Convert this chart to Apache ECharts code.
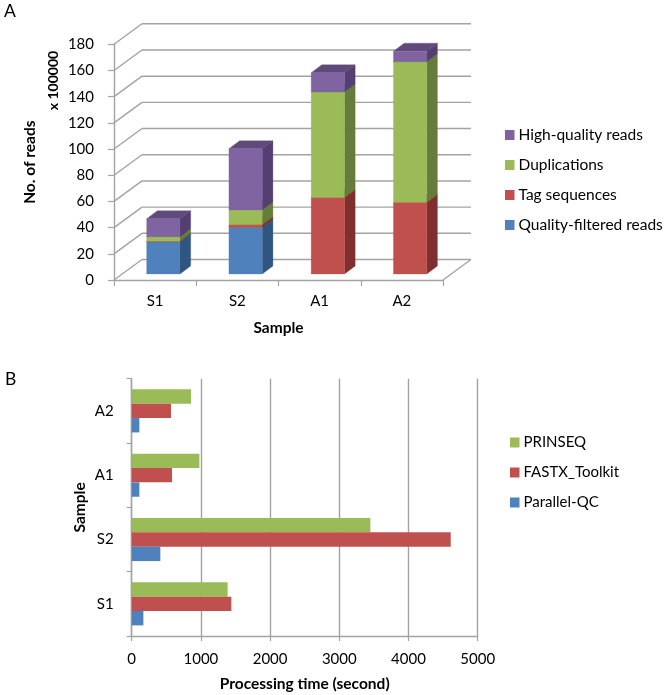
<!DOCTYPE html>
<html><head><meta charset="utf-8">
<style>html,body{margin:0;padding:0;background:#fff}#c{width:665px;height:695px}</style>
<script src="https://cdn.jsdelivr.net/npm/echarts@6/dist/echarts.min.js"></script>
</head><body><div id="c"></div>
<script>
const samplesA = ['S1','S2','A1','A2'];
const qualityFiltered = [24.6,35.6,0,0];
const tagSequences = [0.4,2.0,58.5,54.7];
const duplications = [3.5,11.3,80.5,107.4];
const highQuality = [13.7,46.7,14.7,8.1];
const yTicksA = [0,20,40,60,80,100,120,140,160,180];

const samplesB = ['S1','S2','A1','A2'];
const parallelQC = [169,414,111,111];
const fastx = [1440,4610,583,568];
const prinseq = [1387,3449,978,857];

const FONT = 'Lato';
const INK = '#000';
const GRID = '#a3a3a3';
const DEPTH = {dx:28, dy:-20.5};       // wall depth
const BAR = {ox:8.2, oy:-6, sx:10.7, sy:-8, w:33.3};  // bar placement in the depth

function poly(pts, fill){ return {type:'polygon', shape:{points:pts}, style:{fill:fill, stroke:fill, lineWidth:0.3}}; }

function stackSeries(name, values, below, front, side, top){
  const data = values.map((v,i)=>[i, below[i], below[i]+v, v]);
  return {
    type:'custom', name, xAxisIndex:0, yAxisIndex:0, z:3, clip:false,
    itemStyle:{color:front}, data, encode:{x:0,y:2},
    renderItem(params, api){
      if(api.value(3)<=0) return {type:'group',children:[]};
      const c0 = api.coord([api.value(0), api.value(1)]);
      const c1 = api.coord([api.value(0), api.value(2)]);
      const l = c0[0]-BAR.w/2+BAR.ox, r = c0[0]+BAR.w/2+BAR.ox;
      const b = c0[1]+BAR.oy, t = c1[1]+BAR.oy;
      return {type:'group', children:[
        poly([[l,t],[l+BAR.sx,t+BAR.sy],[r+BAR.sx,t+BAR.sy],[r,t]], top),
        poly([[r,b],[r+BAR.sx,b+BAR.sy],[r+BAR.sx,t+BAR.sy],[r,t]], side),
        poly([[l,b],[r,b],[r,t],[l,t]], front)
      ]};
    }
  };
}
const sum = (a,b)=>a.map((v,i)=>v+b[i]);
const b0 = qualityFiltered.map(()=>0);
const b1 = sum(b0,qualityFiltered), b2 = sum(b1,tagSequences), b3 = sum(b2,duplications);

const wallLine = {stroke:GRID, lineWidth:1.4};
const wallSeries = {
  type:'custom', name:'walls', xAxisIndex:0, yAxisIndex:0, z:1, clip:false, silent:true,
  data: yTicksA.map(v=>[0,v]), encode:{y:1},
  renderItem(params, api){
    const y = api.coord([0, api.value(1)])[1];
    const x0 = params.coordSys.x, w = params.coordSys.width;
    const bx = x0+DEPTH.dx, by = y+DEPTH.dy;
    const kids = [
      {type:'line', shape:{x1:x0,y1:y,x2:bx,y2:by}, style:wallLine},
      {type:'line', shape:{x1:bx,y1:by,x2:bx+w,y2:by}, style:wallLine}
    ];
    if(api.value(1)===0) kids.push({type:'line', shape:{x1:x0+w,y1:y,x2:bx+w,y2:by}, style:wallLine});
    return {type:'group', children:kids};
  }
};

const axisText = {fontFamily:FONT, fontSize:15, color:INK};
const nameText = {fontFamily:FONT, fontSize:15.5, fontWeight:'bold', color:INK};
const axisLine = {show:true, lineStyle:{color:GRID, width:1.4}};
const axisTick = {show:true, length:6, lineStyle:{color:GRID, width:1.2}};

const option = {
  animation:false,
  backgroundColor:'#fff',
  grid:[
    {left:114, top:44.3, width:329, height:235.7},
    {left:131.7, top:378.7, width:346, height:257.3}
  ],
  xAxis:[
    {gridIndex:0, type:'category', data:samplesA, axisLine, axisTick,
     axisLabel:{...axisText, margin:14}, name:'Sample', nameLocation:'middle', nameGap:40, nameMoveOverlap:false, nameTextStyle:nameText, splitLine:{show:false}},
    {gridIndex:1, type:'value', min:0, max:5000, interval:1000, axisLine, axisTick:{...axisTick, length:5},
     axisLabel:{...axisText, margin:15.5, formatter:v=>String(v)}, name:'Processing time (second)', nameLocation:'middle', nameGap:40, nameMoveOverlap:false, nameTextStyle:nameText,
     splitLine:{show:true, lineStyle:{color:GRID, width:1.4}}}
  ],
  yAxis:[
    {gridIndex:0, type:'value', min:0, max:180, interval:20, axisLine, axisTick,
     axisLabel:{...axisText, margin:20}, name:'No. of reads', nameLocation:'middle', nameGap:76, nameMoveOverlap:false, nameTextStyle:nameText, splitLine:{show:false}},
    {gridIndex:1, type:'category', data:samplesB, axisLine, axisTick:{...axisTick, length:5},
     axisLabel:{...axisText, margin:18}, name:'Sample', nameLocation:'middle', nameGap:44, nameMoveOverlap:false, nameTextStyle:nameText, splitLine:{show:false}}
  ],
  legend:[
    {orient:'vertical', left:505, top:127, itemWidth:9.5, itemHeight:10, itemGap:14, icon:'rect',
     textStyle:{fontFamily:FONT, fontSize:15.5, color:INK, padding:[0,0,0,-1]}, padding:0,
     data:['High-quality reads','Duplications','Tag sequences','Quality-filtered reads']},
    {orient:'vertical', left:510, top:435, itemWidth:9.5, itemHeight:10, itemGap:15, icon:'rect',
     textStyle:{fontFamily:FONT, fontSize:15, color:INK, padding:[0,0,0,-1]}, padding:0,
     data:['PRINSEQ','FASTX_Toolkit','Parallel-QC']}
  ],
  graphic:[
    {type:'text', left:4, top:2, style:{text:'A', font:'17.5px '+FONT, fill:INK}},
    {type:'text', left:5, top:370, style:{text:'B', font:'17.5px '+FONT, fill:INK}},
    {type:'text', x:53, y:80.5, rotation:Math.PI/2, style:{text:'x 100000', font:'bold 14px '+FONT, fill:INK, align:'center', verticalAlign:'middle'}}
  ],
  series:[
    wallSeries,
    stackSeries('Quality-filtered reads', qualityFiltered, b0, '#4f81bd', '#2f5580', '#3a5f8c'),
    stackSeries('Tag sequences', tagSequences, b1, '#c0504d', '#7f302e', '#8f3a38'),
    stackSeries('Duplications', duplications, b2, '#9bbb59', '#667c3a', '#738c42'),
    stackSeries('High-quality reads', highQuality, b3, '#8064a2', '#553f72', '#604a7b'),
    {type:'bar', name:'PRINSEQ', xAxisIndex:1, yAxisIndex:1, data:prinseq, itemStyle:{color:'#9bbb59'}, barGap:'0%', barCategoryGap:'33%', z:3},
    {type:'bar', name:'FASTX_Toolkit', xAxisIndex:1, yAxisIndex:1, data:fastx, itemStyle:{color:'#c0504d'}, z:3},
    {type:'bar', name:'Parallel-QC', xAxisIndex:1, yAxisIndex:1, data:parallelQC, itemStyle:{color:'#4f81bd'}, z:3}
  ]
};
echarts.init(document.getElementById('c'), null, {renderer:'canvas'}).setOption(option);
</script></body></html>
